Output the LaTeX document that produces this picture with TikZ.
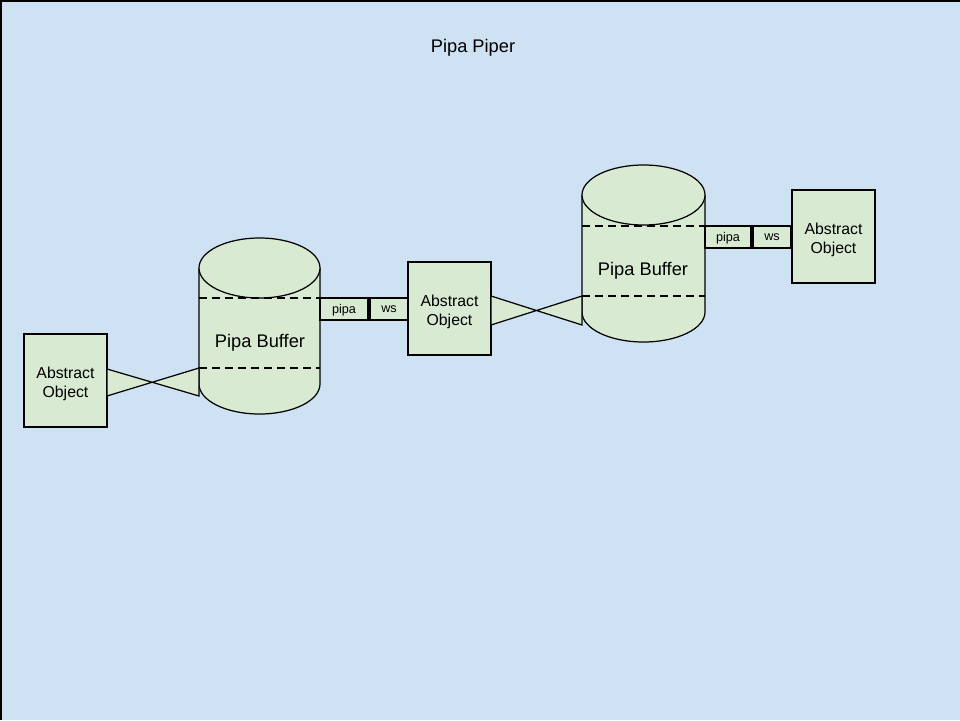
\documentclass[tikz,border=0pt]{standalone}
\usepackage{fontspec}
\setmainfont{Liberation Sans}
\usetikzlibrary{calc}

\definecolor{sheetblue}{HTML}{CFE2F3}
\definecolor{objgreen}{HTML}{D9EAD3}

\tikzset{
	object/.style={draw, fill=objgreen, line width=0.7pt, minimum width=1.66cm, minimum height=1.86cm, inner sep=0pt},
	objtext/.style={align=center, inner sep=0pt, yshift=-1.8pt, font=\fontsize{9}{10.6}\selectfont},
	port/.style={draw, fill=objgreen, line width=0.7pt, minimum height=0.44cm, inner sep=0pt, text depth=0pt, font=\fontsize{7.2}{8}\selectfont},
	bufline/.style={line width=1.5pt, dash pattern=on 4.6pt off 2.8pt},
	tie/.style={draw, fill=objgreen, line width=0.7pt, line join=miter}
}

% cylinder: left x, right x, top y, bottom y (pixels, y down)
\newcommand{\pipabuffer}[4]{%
	\path[fill=objgreen, draw, line width=0.7pt] (#1,#3+30) -- (#1,#4-30) arc[start angle=180, end angle=0, x radius={(#2-#1)/2}, y radius=30] -- (#2,#3+30);
	\draw[fill=objgreen, line width=0.7pt] ({(#1+#2)/2},#3+30) ellipse[x radius={(#2-#1)/2}, y radius=30];
}

\begin{document}
\begin{tikzpicture}[x=0.02cm, y=-0.02cm]
	\useasboundingbox (0,0) rectangle (960,720);
	\fill[sheetblue] (0,0) rectangle (960,720);
	\draw[line width=0.8pt] (1,720) -- (1,1) -- (960,1);		%sheet edge

	\node (title) at (473,48) {\fontsize{10.4}{12}\selectfont Pipa Piper};

	%buffers
	\pipabuffer{199}{320}{238}{414}
	\draw[bufline] (199,298) -- (320,298);
	\draw[bufline] (199,368) -- (320,368);
	\node (bufA) at (260,343) {\fontsize{10.4}{12}\selectfont Pipa Buffer};

	\pipabuffer{582}{705}{165}{342}
	\draw[bufline] (582,226) -- (705,226);
	\draw[bufline] (582,296) -- (705,296);
	\node (bufB) at (643,271) {\fontsize{10.4}{12}\selectfont Pipa Buffer};

	%objects
	\node[object, label={[objtext]center:Abstract\\Object}] (objA) at (65.5,380.5) {};
	\node[object, label={[objtext]center:Abstract\\Object}] (objB) at (449.5,308.5) {};
	\node[object, label={[objtext]center:Abstract\\Object}] (objC) at (833.5,236.5) {};

	%ports
	\node[port, minimum width=0.96cm] (pipaA) at (344,309) {pipa};
	\node[port, minimum width=0.76cm] (wsA) at (389,309) {ws};
	\node[port, minimum width=0.92cm] (pipaB) at (728,237) {pipa};
	\node[port, minimum width=0.76cm] (wsB) at (772,237) {ws};

	%crossed ties
	\coordinate (tieA1) at (107,369);
	\coordinate (tieA2) at (107,396);
	\coordinate (tieA3) at (199,368);
	\coordinate (tieA4) at (199,396);
	\path[tie] (tieA1) -- (tieA4) -- (tieA3) -- (tieA2) -- cycle;

	\coordinate (tieB1) at (491,296);
	\coordinate (tieB2) at (491,325);
	\coordinate (tieB3) at (582,296);
	\coordinate (tieB4) at (582,325);
	\path[tie] (tieB1) -- (tieB4) -- (tieB3) -- (tieB2) -- cycle;
\end{tikzpicture}
\end{document}
